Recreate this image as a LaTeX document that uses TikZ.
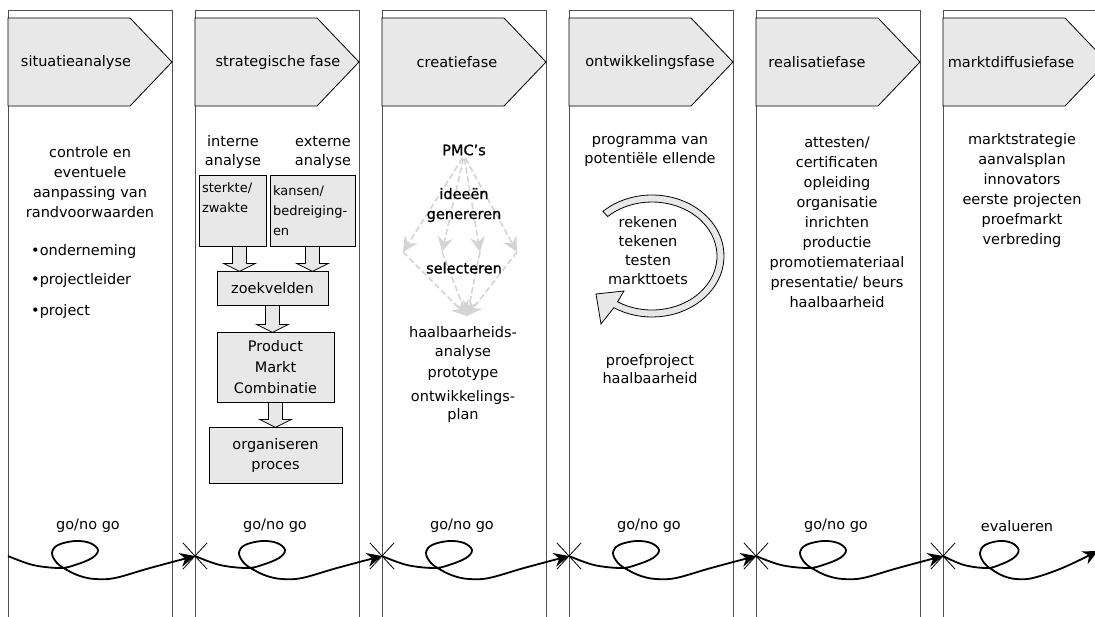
\documentclass[tikz,border=0pt]{standalone}
\usepackage{fontspec}
\setmainfont{DejaVu Sans}
\newfontfamily\halfvet[FakeBold=1]{DejaVu Sans}
\usetikzlibrary{arrows.meta,calc}

\definecolor{vlak}{RGB}{232,232,232}
\definecolor{rand}{RGB}{80,80,80}
\definecolor{stippel}{RGB}{212,212,212}

\tikzset{
  tekst/.style={align=center,inner sep=0pt,font=\fontsize{14.5pt}{20pt}\selectfont},
  vet/.style={tekst,font=\halfvet\fontsize{14.5pt}{20pt}\selectfont},
  kolom/.style={draw=rand,line width=1pt},
  fase/.style={draw=black,fill=vlak,line width=0.8pt},
  blok/.style={draw=black,fill=vlak,line width=0.8pt,inner sep=0pt,align=center,
    font=\fontsize{14.5pt}{20pt}\selectfont},
  blokpijl/.style={draw=black,fill=vlak,line width=0.8pt},
  golf/.style={line width=1.8pt,-{Stealth[length=15pt,width=14pt,inset=5pt]}},
  kruis/.style={line width=0.8pt},
  idee/.style={draw=stippel,line width=1.6pt,dash pattern=on 6pt off 3pt,
    -{Stealth[length=15pt,width=15pt,inset=5pt,fill=stippel]}}
}

\newcommand{\blokpijl}[2]{%
  \draw[blokpijl] (#1) ++(-7,0) -- ++(0,#2-8) -- ++(-9,0) -- ++(16,8)
    -- ++(16,-8) -- ++(-9,0) -- ++(0,8-#2) -- cycle;}

\begin{document}
\begin{tikzpicture}[x=1pt,y=-1pt]
\useasboundingbox (0,0) rectangle (1095,616);

% kolommen met fasepijl
\foreach \i in {1,...,6} {
  \pgfmathsetmacro\L{8+187*(\i-1)}
  \draw[kolom] (\L,10) rectangle ++(164,620);
  \draw[fase] (\L,18) -- ++(122,0) -- ++(42,44) -- ++(-42,44) -- ++(-122,0) -- cycle;
  \coordinate (g\i) at (\L,556);
}
\coordinate (g7) at (1098,551);

\node[tekst] (fase1) at (76,62) {situatieanalyse};
\node[tekst] (fase2) at (278,62) {strategische fase};
\node[tekst] (fase3) at (457,62) {creatiefase};
\node[tekst] (fase4) at (650,62) {ontwikkelingsfase};
\node[tekst] (fase5) at (817,62) {realisatiefase};
\node[tekst] (fase6) at (1011,62) {marktdiffusiefase};

% situatieanalyse
\node[tekst] (controle) at (90,182)
{controle en\\eventuele\\aanpassing van\\randvoorwaarden};
\node[tekst,anchor=west] (ond) at (31,251) {•onderneming};
\node[tekst,anchor=west] (leider) at (31,280) {•projectleider};
\node[tekst,anchor=west] (proj) at (31,311) {•project};

% strategische fase
\node[tekst,font=\fontsize{14.5pt}{19pt}\selectfont] (intern) at (233,152) {interne\\analyse};
\node[tekst,font=\fontsize{14.5pt}{19pt}\selectfont] (extern) at (323,152) {externe\\analyse};
\node[blok,minimum width=67pt,minimum height=71pt,text width=61pt,align=left,
  font=\fontsize{13pt}{20pt}\selectfont] (sterkte) at (232.5,210.5) {sterkte/\\zwakte\\\strut};
\node[blok,minimum width=85pt,minimum height=71pt,text width=79pt,align=left,
  font=\fontsize{13pt}{20pt}\selectfont] (kansen) at (312.5,210.5) {kansen/\\bedreiging-\\en};
\node[blok,minimum width=111pt,minimum height=34pt] (zoek) at (272.5,288) {zoekvelden};
\node[blok,minimum width=117pt,minimum height=70pt,font=\fontsize{14.5pt}{21pt}\selectfont]
  (pmc) at (275.5,367) {Product\\Markt\\Combinatie};
\node[blok,minimum width=133pt,minimum height=56pt] (org) at (275.5,455) {organiseren\\proces};

\blokpijl{$(sterkte.south)+(7,0)$}{25}
\blokpijl{kansen.south}{25}
\blokpijl{zoek.south}{27}
\blokpijl{pmc.south}{25}

% creatiefase
\node[vet] (pmcs) at (464,150) {PMC’s};
\coordinate (idee1) at (403,252);
\coordinate (idee2) at (442,252);
\coordinate (idee3) at (480,252);
\coordinate (idee4) at (517,252);
\coordinate (keuze) at (467,316);
\foreach \i in {1,...,4} {
  \draw[idee,shorten <=3pt] (pmcs.south) -- (idee\i);
  \draw[idee] (idee\i) -- (keuze);
}
\node[vet] (genereren) at (464,205) {ideeën\\genereren};
\node[vet] (selecteren) at (464,268) {selecteren};
\node[tekst,font=\fontsize{14.5pt}{19pt}\selectfont] (haalb) at (463,342.5) {haalbaarheids-\\analyse};
\node[tekst] (proto) at (463,374) {prototype};
\node[tekst,font=\fontsize{14.5pt}{18pt}\selectfont] (ontwplan) at (463,406) {ontwikkelings-\\plan};

% ontwikkelingsfase
\node[tekst,font=\fontsize{14.5pt}{19pt}\selectfont] (programma) at (650,151.5)
{programma van\\potentiële ellende};
\coordinate (cyclus) at (652,256);
\draw[fase] ($(cyclus)+(-133:72 and 61)$)
  arc[start angle=-133,end angle=122,x radius=72,y radius=61]
  -- ($(cyclus)+(-51,68)$) -- ($(cyclus)+(-56,38)$) -- ($(cyclus)+(-28,35)$)
  -- ($(cyclus)+(122:65 and 54)$)
  arc[start angle=122,end angle=-133,x radius=65,y radius=54] -- cycle;
\node[tekst,font=\fontsize{14.5pt}{19pt}\selectfont] (rekenen) at (648,250.5)
{rekenen\\tekenen\\testen\\markttoets};
\node[tekst,font=\fontsize{14.5pt}{18pt}\selectfont] (proef) at (650,369)
{proefproject\\haalbaarheid};

% realisatiefase
\node[tekst] (realisatie) at (837,222)
{attesten/\\certificaten\\opleiding\\organisatie\\inrichten\\productie\\promotiemateriaal\\presentatie/ beurs\\haalbaarheid};

% marktdiffusiefase
\node[tekst] (markt) at (1022,190)
{marktstrategie\\aanvalsplan\\innovators\\eerste projecten\\proefmarkt\\verbreding};

% beslismomenten
\foreach \i in {1,...,5}
  \node[tekst] (besluit\i) at ($(g\i)+(80,-30)$) {go/no go};
\node[tekst] (besluit6) at ($(g6)+(74,-30)$) {evalueren};

\foreach \i/\j/\s in {1/2/1,2/3/1,3/4/1,4/5/1,5/6/1,6/7/0.84} {
  \begin{scope}[shift={(g\i)},xscale=\s]
    \draw[golf] plot[smooth,tension=0.6] coordinates {(0,0) (25,9) (52,12) (67,9) (84,2)
      (90,-6) (82,-13) (67,-15) (50,-11) (44,-3) (49,7) (59,14) (72,20) (87,23)
      (107,22) (142,12) (g\j)};
  \end{scope}
}
\foreach \i in {2,...,6}
  \draw[kruis] (g\i) +(-12,-13) -- +(12,13) +(-12,13) -- +(12,-13);

\end{tikzpicture}
\end{document}
